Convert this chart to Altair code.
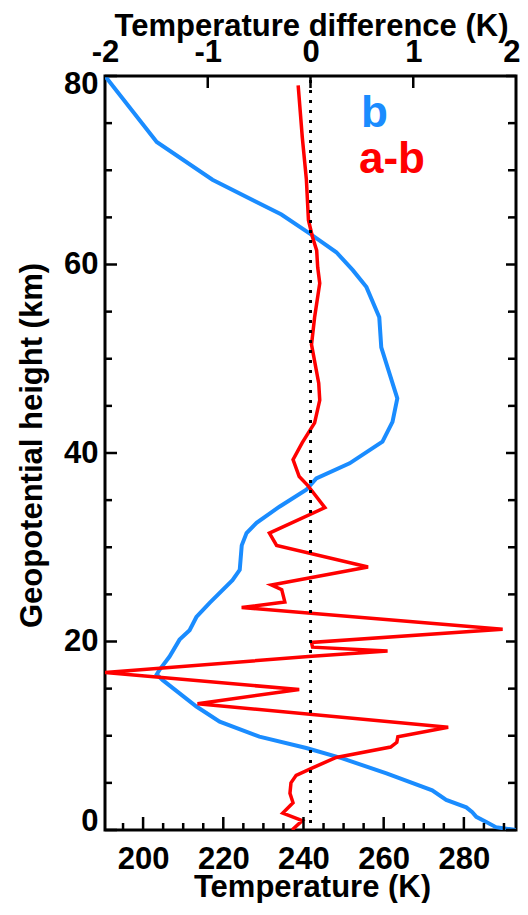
import altair as alt
import pandas as pd

# ---------------- data ----------------
# b : temperature profile (K) against geopotential height (km)
b_height = [80.0, 73.0, 69.0, 65.3, 63.3, 61.3, 59.4, 57.6, 54.4, 51.2, 48.5, 45.8,
            43.3, 41.2, 38.9, 37.3, 36.1, 34.3, 32.6, 31.5, 30.2, 27.6, 26.5, 24.1,
            22.6, 21.2, 20.2, 18.4, 17.0, 16.5, 15.9, 14.5, 13.1, 11.5, 9.9, 8.7,
            7.6, 6.0, 4.2, 3.2, 2.4, 1.9, 1.4, 0.85, 0.3, 0.0]
b_temp = [190.5, 203.4, 217.3, 234.5, 241.5, 248.2, 252.3, 255.7, 258.9, 259.4, 261.4, 263.4,
          262.2, 259.7, 251.5, 243.2, 240.7, 234.0, 228.3, 225.8, 224.6, 224.1, 222.3, 216.6,
          213.3, 211.6, 209.1, 206.6, 204.1, 203.4, 204.9, 209.1, 213.3, 219.1, 229.0, 240.7,
          249.7, 260.7, 272.1, 275.6, 280.6, 282.1, 283.1, 285.6, 288.0, 293.0]

# a-b : temperature difference (K) against geopotential height (km)
diff_height = [79.0, 73.5, 69.0, 64.7, 62.9, 61.5, 59.7, 58.0, 54.4, 51.5, 47.4, 45.6,
               43.2, 41.1, 39.3, 37.5, 36.6, 34.2, 31.5, 30.2, 27.9, 26.0, 25.5, 24.2,
               23.6, 21.3, 19.9, 19.4, 19.0, 18.4, 16.7, 14.9, 13.4, 10.9, 9.9, 9.3,
               8.8, 7.7, 6.6, 5.8, 5.0, 3.9, 2.9, 1.8, 1.0, 0.0]
diff_value = [-0.12, -0.08, -0.04, -0.02, 0.02, 0.06, 0.07, 0.09, 0.04, 0.01, 0.08, 0.09,
              0.04, -0.08, -0.17, -0.11, -0.03, 0.14, -0.40, -0.33, 0.56, -0.38, -0.28, -0.25,
              -0.67, 1.87, 0.01, 0.02, 0.75, -0.02, -2.0, -0.11, -1.10, 1.34, 0.85, 0.84,
              0.78, 0.25, 0.02, -0.14, -0.19, -0.20, -0.17, -0.27, -0.08, -0.18]

legend_labels = ["b", "a-b"]
zero_line = [0]

temp_domain = [190.5, 293.0]
diff_domain = [-2, 2]
height_domain = [0, 80]

temp_major = [200, 220, 240, 260, 280]
temp_minor = [195, 205, 210, 215, 225, 230, 235, 245, 250, 255, 265, 270, 275, 285, 290]
diff_major = [-2, -1, 0, 1, 2]
height_major = [0, 20, 40, 60, 80]
height_minor = [5, 10, 15, 25, 30, 35, 45, 50, 55, 65, 70, 75]

# ---------------- style ----------------
W, H = 411, 754
FONT = "Liberation Sans"
BLUE = "#1a8cff"
RED = "#ff0000"
FS = 31

b_df = pd.DataFrame({"h": b_height, "T": b_temp, "i": list(range(len(b_height)))})
d_df = pd.DataFrame({"h": diff_height, "d": diff_value, "i": list(range(len(diff_height)))})

t_scale = alt.Scale(domain=temp_domain, nice=False, zero=False)
d_scale = alt.Scale(domain=diff_domain, nice=False, zero=False)
h_scale = alt.Scale(domain=height_domain, nice=False, zero=False)

common_axis = dict(ticks=False, domain=False, grid=False,
                   labelFont=FONT, labelFontSize=FS, labelFontWeight="bold", labelColor="black",
                   titleFont=FONT, titleFontSize=FS, titleFontWeight="bold", titleColor="black")

y_axis = alt.Axis(orient="left", values=height_major, title="Geopotential height (km)",
                  labelPadding=7, labelFlush=True, labelFlushOffset=7,
                  titleAngle=-90, titleX=-64, titleY=369,
                  titleAlign="center", titleBaseline="alphabetic", **common_axis)
xb_axis = alt.Axis(orient="bottom", values=temp_major, title="Temperature (K)",
                   labelPadding=14, labelFlush=False, titleX=207, titleY=66,
                   titleAlign="center", titleBaseline="alphabetic", **common_axis)
last_diff = diff_major[-1]
xt_axis = alt.Axis(orient="top", values=diff_major, title="Temperature difference (K)",
                   labelPadding=8, labelFlush=False, titleX=206, titleY=-41,
                   titleAlign="center", titleBaseline="alphabetic",
                   labelAlign={"condition": {"test": f"datum.value == {last_diff}", "value": "right"},
                               "value": "center"},
                   labelOffset={"condition": {"test": f"datum.value == {last_diff}", "value": 4},
                                "value": 0},
                   labelExpr="replace(datum.label, '\u2212', '-')", **common_axis)

TICK_W = 2.5


def y_enc():
    # every layer shares the same y scale and the same (explicit) axis definition
    return alt.Y("h:Q", scale=h_scale, axis=y_axis)


def h_ticks(values, length, side):
    df = pd.DataFrame({"h": values})
    if side == "left":
        xs = dict(x=alt.value(0), x2=alt.value(length))
    else:
        xs = dict(x=alt.value(W - length), x2=alt.value(W))
    return alt.Chart(df).mark_rule(color="black", strokeWidth=TICK_W).encode(y=y_enc(), **xs)


def t_ticks(values, length):
    df = pd.DataFrame({"T": values})
    return alt.Chart(df).mark_rule(color="black", strokeWidth=TICK_W).encode(
        x=alt.X("T:Q", scale=t_scale, axis=None), y=alt.value(H), y2=alt.value(H - length))


def d_ticks(values, length):
    df = pd.DataFrame({"d": values})
    return alt.Chart(df).mark_rule(color="black", strokeWidth=TICK_W).encode(
        x=alt.X("d:Q", scale=d_scale, axis=None), y=alt.value(0), y2=alt.value(length))


blue_line = alt.Chart(b_df).mark_line(color=BLUE, strokeWidth=4, clip=True).encode(
    x=alt.X("T:Q", scale=t_scale, axis=xb_axis),
    y=y_enc(),
    order="i:Q",
)

zero_rule = alt.Chart(pd.DataFrame({"d": zero_line})).mark_rule(
    color="black", strokeWidth=3, strokeDash=[3, 7]).encode(
    x=alt.X("d:Q", scale=d_scale, axis=None), y=alt.value(4), y2=alt.value(H))

red_line = alt.Chart(d_df).mark_line(color=RED, strokeWidth=3.5, clip=True).encode(
    x=alt.X("d:Q", scale=d_scale, axis=xt_axis),
    y=y_enc(),
    order="i:Q",
)

label_df = pd.DataFrame({"label": legend_labels})
legend_b = alt.Chart(label_df).transform_filter(alt.datum.label == legend_labels[0]).mark_text(
    font=FONT, fontSize=44, fontWeight="bold", color=BLUE, align="left", baseline="alphabetic"
).encode(text="label:N", x=alt.value(256), y=alt.value(51))
legend_ab = alt.Chart(label_df).transform_filter(alt.datum.label == legend_labels[1]).mark_text(
    font=FONT, fontSize=44, fontWeight="bold", color=RED, align="left", baseline="alphabetic"
).encode(text="label:N", x=alt.value(254), y=alt.value(97))

chart = alt.layer(
    blue_line,
    red_line,
    zero_rule,
    t_ticks(temp_major, 13),
    t_ticks(temp_minor, 7),
    h_ticks(height_major, 12, "left"),
    h_ticks(height_minor, 7, "left"),
    h_ticks(height_major, 10, "right"),
    h_ticks(height_minor, 8, "right"),
    d_ticks([-1, 0, 1], 12),
    legend_b,
    legend_ab,
).resolve_scale(
    x="independent"
).properties(
    width=W, height=H,
    autosize=alt.AutoSizeParams(type="none"),
    padding={"left": 97, "top": 68, "right": 4, "bottom": 73},
    background="white",
).configure_view(stroke="black", strokeWidth=3)

chart.save("out.html", embed_options={"renderer": "svg", "actions": False})
